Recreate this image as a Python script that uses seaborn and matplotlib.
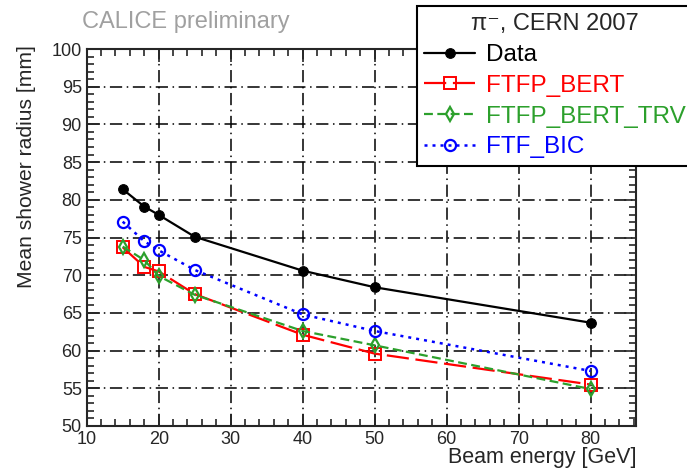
import numpy as np
import pandas as pd
import seaborn as sns
import matplotlib.pyplot as plt
from matplotlib.ticker import MultipleLocator

# beam energies [GeV]
energy = [15, 18, 20, 25, 40, 50, 80]

# mean shower radius [mm]
data = [81.4, 79.1, 78.0, 75.1, 70.6, 68.4, 63.7]
ftfp_bert = [73.7, 71.1, 70.5, 67.5, 62.1, 59.6, 55.5]
ftfp_bert_trv = [73.8, 72.0, 69.9, 67.4, 62.6, 60.7, 54.9]
ftf_bic = [77.1, 74.5, 73.3, 70.7, 64.8, 62.6, 57.3]

series_names = ["Data", "FTFP_BERT", "FTFP_BERT_TRV", "FTF_BIC"]

sns.set_style("ticks")
plt.rcParams['font.family'] = ['Liberation Sans', 'DejaVu Sans']

fig = plt.figure(figsize=(6.87, 4.71), dpi=100)
ax = fig.add_axes([86.7 / 687, 45 / 471, (636 - 86.7) / 687, (426 - 49) / 471])

df = pd.DataFrame({"energy": energy * 4,
                   "radius": data + ftfp_bert + ftfp_bert_trv + ftf_bic,
                   "model": np.repeat(series_names, len(energy))})

styles = {
    "Data": dict(color="black", marker="o", ms=7, mfc="black", mec="black",
                 linestyle="-", lw=1.6),
    "FTFP_BERT": dict(color="#ff0000", marker="s", ms=9, mfc="none", mec="#ff0000",
                      mew=1.4, dashes=(10, 3), lw=1.6),
    "FTFP_BERT_TRV": dict(color="#2ca02c", marker="d", ms=7.5, mfc="none", mec="#2ca02c",
                          mew=1.6, dashes=(4, 2), lw=1.6),
    "FTF_BIC": dict(color="#0000ff", marker="o", ms=8, mfc="none", mec="#0000ff",
                    mew=1.6, dashes=(1.2, 2), lw=1.8),
}

for name in series_names:
    sub = df[df["model"] == name]
    sns.lineplot(data=sub, x="energy", y="radius", ax=ax, label=name,
                 errorbar=None, sort=False, **styles[name])

ax.set_xlim(10, 86.3)
ax.set_ylim(50, 100)
ax.xaxis.set_major_locator(MultipleLocator(10))
ax.xaxis.set_minor_locator(MultipleLocator(2))
ax.yaxis.set_major_locator(MultipleLocator(5))
ax.yaxis.set_minor_locator(MultipleLocator(1))
ax.tick_params(which="both", direction="in", top=True, right=True, labelsize=13, width=1.2)
ax.tick_params(which="major", length=9)
ax.tick_params(which="minor", length=5)
ax.grid(True, which="major", color="black", linestyle=(0, (8, 3, 1, 3)), lw=1.1)
for sp in ax.spines.values():
    sp.set_linewidth(1.5)

ax.set_xlabel("")
ax.set_ylabel("")
fig.text(636 / 687, 1 - 458 / 471, "Beam energy [GeV]", ha="right", va="center", fontsize=15.5)
fig.text(26 / 687, 1 - 45 / 471, "Mean shower radius [mm]", rotation=90, ha="center", va="top", fontsize=15.2)
fig.text(82 / 687, 1 - 22 / 471, "CALICE preliminary", ha="left", va="center", fontsize=17, color="#a0a0a0")

handles, labels = ax.get_legend_handles_labels()
leg = ax.legend(handles, labels, title="π⁻, CERN 2007", loc="upper left",
                bbox_to_anchor=(417 / 687, 1 - 6 / 471), bbox_transform=fig.transFigure,
                fontsize=17.5, title_fontsize=17, labelcolor="linecolor", frameon=True,
                fancybox=False, edgecolor="black", framealpha=1, handlelength=2.1,
                handletextpad=0.45, borderaxespad=0, labelspacing=0.36, borderpad=0.3)
leg.get_frame().set_linewidth(1.5)
leg.set_clip_on(False)

fig.savefig("out.png", dpi=100)
